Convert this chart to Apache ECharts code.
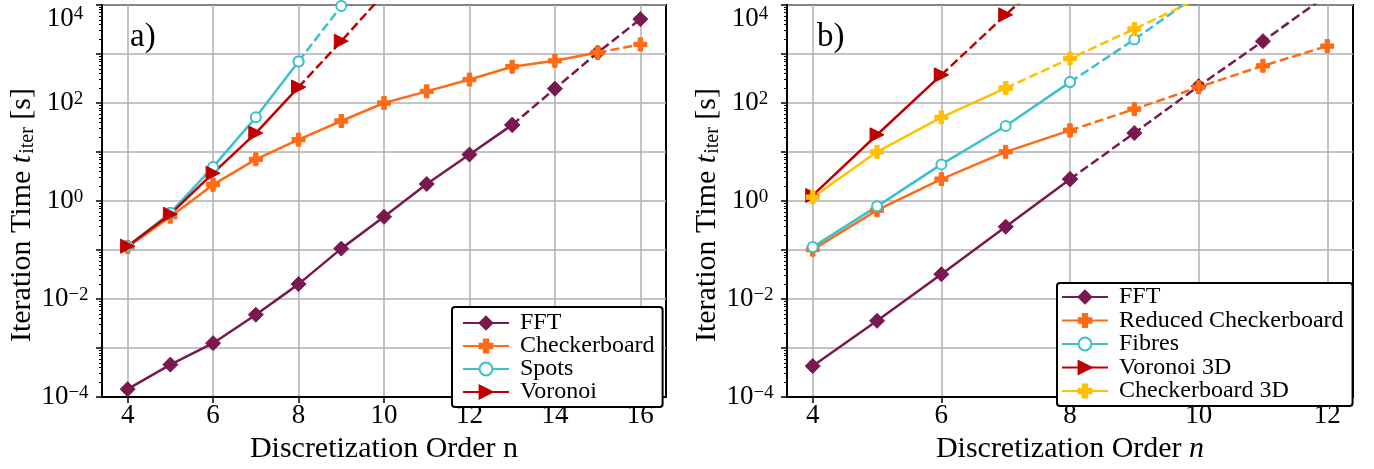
<!DOCTYPE html>
<html>
<head>
<meta charset="utf-8">
<script src="https://cdn.jsdelivr.net/npm/echarts@6/dist/echarts.min.js"></script>
<style>
  html, body { margin: 0; padding: 0; background: #fff; }
  #chart { width: 1374px; height: 469px; }
</style>
</head>
<body>
<div id="chart"></div>
<script>
// panel a) – 2D geometries, iteration time in seconds
var nA = [4, 5, 6, 7, 8, 9, 10, 11, 12, 13, 14, 15, 16];
var fftA = [1.45e-4, 4.6e-4, 1.26e-3, 4.8e-3, 0.0202, 0.107, 0.476, 2.23, 8.9, 35.8, 196, 1070, 5150];
var checkerA = [0.115, 0.48, 2.16, 7.1, 17.9, 43, 100, 173, 301, 551, 726, 1070, 1570];
var nSpots = [4, 5, 6, 7, 8, 9];
var spotsA = [0.12, 0.574, 4.98, 51, 705, 9500];
var nVoronoi = [4, 5, 6, 7, 8, 9, 10];
var voronoiA = [0.12, 0.54, 3.7, 24.4, 211, 1830, 17000];

// panel b) – 3D geometries
var nB = [4, 5, 6, 7, 8, 9, 10, 11, 12];
var fftB = [4.3e-4, 3.6e-3, 0.032, 0.30, 2.8, 24.4, 221, 1830, 16000];
var redCheckerB = [0.102, 0.65, 2.8, 10.1, 27.6, 75, 211, 575, 1450];
var nFibres = [4, 5, 6, 7, 8, 9, 10];
var fibresB = [0.115, 0.78, 5.6, 34, 267, 1980, 16700];
var nVor3D = [4, 5, 6, 7, 8];
var vor3dB = [1.3, 22.5, 374, 6300, 100000];
var nCb3D = [4, 5, 6, 7, 8, 9, 10];
var cb3dB = [1.2, 10.1, 51, 202, 810, 3240, 13500];

var xTicksA = [4, 6, 8, 10, 12, 14, 16];
var xTicksB = [4, 6, 8, 10, 12];

var FONT = 'Liberation Serif';
var C_FFT = '#7a1850';
var C_CHECK = '#ff6a14';
var C_SPOTS = '#3cc0cb';
var C_VOR = '#c00000';
var C_CB3D = '#ffc000';

var DIAMOND = 'path://M5,0L10,5L5,10L0,5Z';
var PLUS = 'path://M2,0H4V2H6V4H4V6H2V4H0V2H2Z';
var TRI = 'path://M0,0L10,5L0,10Z';

var series = [];

function pairs(ns, vals) {
  return ns.map(function (n, i) { return [n, vals[i]]; });
}

// solid up to index cut, dashed from there on
function addLine(name, ns, vals, cut, color, symbol, size, idx) {
  var d = pairs(ns, vals);
  var empty = symbol === 'emptyCircle';
  var base = {
    type: 'line',
    xAxisIndex: idx,
    yAxisIndex: idx,
    symbol: symbol,
    symbolSize: size,
    showAllSymbol: true,
    itemStyle: empty
      ? { color: color, borderColor: color, borderWidth: 2.5 }
      : { color: color, borderColor: color, borderWidth: 1 },
    emphasis: { disabled: true }
  };
  series.push(Object.assign({}, base, {
    name: name,
    data: d.slice(0, cut + 1),
    lineStyle: { color: color, width: 2.5 }
  }));
  series.push(Object.assign({}, base, {
    name: name + ' ',
    data: d.slice(cut),
    lineStyle: { color: color, width: 2.5, type: [9, 4] }
  }));
}

addLine('FFT', nA, fftA, 9, C_FFT, DIAMOND, 15, 0);
addLine('Checkerboard', nA, checkerA, 11, C_CHECK, PLUS, 13, 0);
addLine('Spots', nSpots, spotsA, 4, C_SPOTS, 'emptyCircle', 10, 0);
addLine('Voronoi', nVoronoi, voronoiA, 4, C_VOR, TRI, 14, 0);

addLine('FFT', nB, fftB, 4, C_FFT, DIAMOND, 15, 1);
addLine('Reduced Checkerboard', nB, redCheckerB, 4, C_CHECK, PLUS, 13, 1);
addLine('Fibres', nFibres, fibresB, 4, C_SPOTS, 'emptyCircle', 10, 1);
addLine('Voronoi 3D', nVor3D, vor3dB, 2, C_VOR, TRI, 14, 1);
addLine('Checkerboard 3D', nCb3D, cb3dB, 3, C_CB3D, PLUS, 13, 1);

function xAxis(idx, min, max, ticks, nameText) {
  return {
    type: 'value',
    gridIndex: idx,
    min: min,
    max: max,
    name: nameText,
    nameLocation: 'middle',
    nameGap: 33,
    nameTextStyle: {
      fontFamily: FONT, fontSize: 30, color: '#000',
      rich: { n: { fontFamily: FONT, fontSize: 30, color: '#000' },
              i: { fontFamily: FONT, fontSize: 30, color: '#000', fontStyle: 'italic' } }
    },
    axisLine: { show: true, lineStyle: { color: '#000', width: 2 } },
    axisTick: { show: true, customValues: ticks, length: 6, lineStyle: { color: '#000', width: 1.5 } },
    axisLabel: { customValues: ticks, margin: 5, fontFamily: FONT, fontSize: 27, color: '#000' },
    splitLine: { show: true, lineStyle: { color: '#b0b0b0', width: 1.5 } }
  };
}

function yAxis(idx) {
  return {
    type: 'log',
    logBase: 10,
    gridIndex: idx,
    min: 1e-4,
    max: 1e4,
    interval: 1,
    name: '{n|Iteration Time }{i|t}{u|iter}{n| [s]}',
    nameLocation: 'middle',
    nameRotate: 90,
    nameGap: 64,
    nameTextStyle: {
      padding: [0, 28, 0, 0],
      rich: {
        n: { fontFamily: FONT, fontSize: 30, color: '#000', verticalAlign: 'bottom' },
        i: { fontFamily: FONT, fontSize: 30, color: '#000', fontStyle: 'italic', verticalAlign: 'bottom' },
        u: { fontFamily: FONT, fontSize: 20, color: '#000', verticalAlign: 'bottom', padding: [0, 0, 0, 1] }
      }
    },
    axisLine: { show: true, lineStyle: { color: '#000', width: 2 } },
    axisTick: { show: true, length: 6, lineStyle: { color: '#000', width: 1.5 } },
    minorTick: { show: true, splitNumber: 9, length: 3, lineStyle: { color: '#000', width: 1 } },
    axisLabel: {
      margin: 37,
      align: 'center',
      verticalAlignMaxLabel: 'top',
      formatter: function (v) {
        var e = Math.round(Math.log10(v));
        if (e % 2 !== 0) return '';
        return '{b|10}{s|' + (e < 0 ? '\u2212' + (-e) : e) + '}';
      },
      rich: {
        b: { fontFamily: FONT, fontSize: 27, color: '#000', verticalAlign: 'bottom' },
        s: { fontFamily: FONT, fontSize: 19, color: '#000', verticalAlign: 'top' }
      }
    },
    splitLine: { show: true, lineStyle: { color: '#b0b0b0', width: 1.5 } }
  };
}

function legend(names, left, top, padding, gap) {
  return {
    data: names,
    orient: 'vertical',
    left: left,
    top: top,
    itemWidth: 46,
    itemHeight: 16,
    itemGap: gap,
    padding: padding,
    backgroundColor: '#fff',
    borderColor: '#000',
    borderWidth: 2,
    borderRadius: 3,
    selectedMode: false,
    z: 10,
    textStyle: { fontFamily: FONT, fontSize: 24, color: '#000', padding: [0, 0, 0, 6] }
  };
}

var chart = echarts.init(document.getElementById('chart'));
chart.setOption({
  animation: false,
  backgroundColor: '#fff',
  grid: [
    { left: 102, top: 5, width: 564, height: 398, show: true, borderColor: '#000', borderWidth: 2 },
    { left: 787, top: 5, width: 566, height: 398, show: true, borderColor: '#000', borderWidth: 2 }
  ],
  xAxis: [
    xAxis(0, 3.4, 16.6, xTicksA, 'Discretization Order n'),
    xAxis(1, 3.6, 12.4, xTicksB, '{n|Discretization Order }{i|n}')
  ],
  yAxis: [yAxis(0), yAxis(1)],
  legend: [
    legend(['FFT', 'Checkerboard', 'Spots', 'Voronoi'], 452, 307, [4, 8, 3, 10], -1),
    legend(['FFT', 'Reduced Checkerboard', 'Fibres', 'Voronoi 3D', 'Checkerboard 3D'], 1057, 283, [2, 9, 3, 4], -0.5)
  ],
  graphic: [
    { type: 'text', left: 130, top: 21, style: { text: 'a)', font: '33px "Liberation Serif"', fill: '#000' } },
    { type: 'text', left: 817, top: 21, style: { text: 'b)', font: '33px "Liberation Serif"', fill: '#000' } }
  ],
  series: series
});
</script>
</body>
</html>
